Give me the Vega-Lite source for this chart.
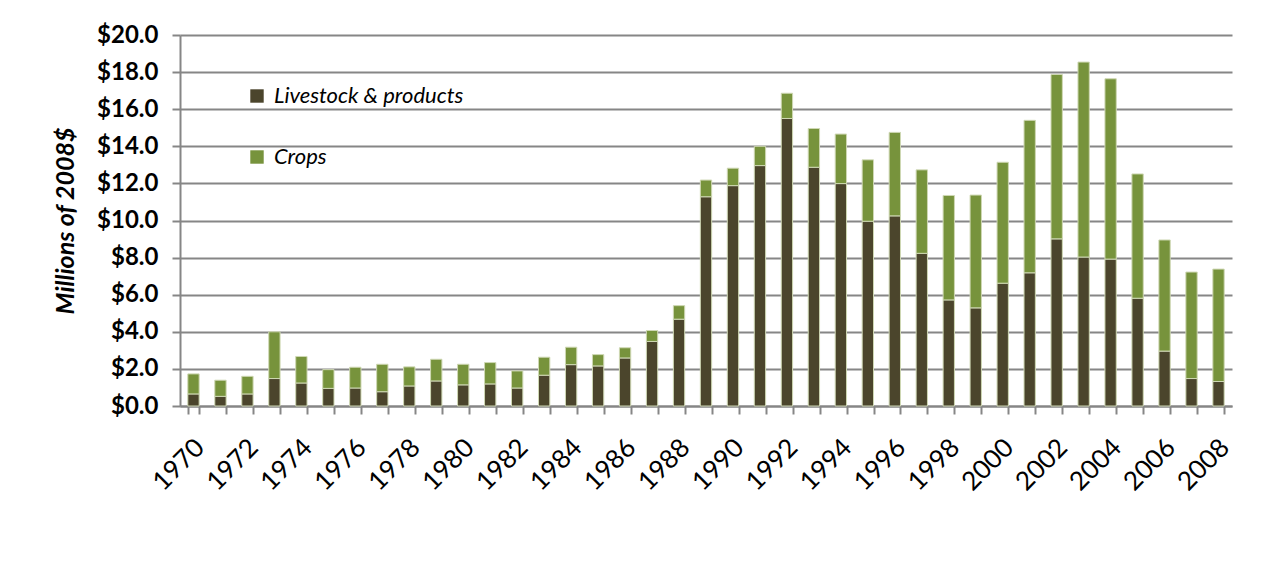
{
  "$schema": "https://vega.github.io/schema/vega-lite/v6.json",
  "autosize": "none",
  "width": 1052,
  "height": 371,
  "padding": {"left": 180, "top": 35, "right": 33, "bottom": 169},
  "background": "white",
  "data": {
    "values": [
      {"year": 1970, "livestock": 0.65, "crops": 1.08},
      {"year": 1971, "livestock": 0.52, "crops": 0.87},
      {"year": 1972, "livestock": 0.65, "crops": 0.95},
      {"year": 1973, "livestock": 1.48, "crops": 2.52},
      {"year": 1974, "livestock": 1.24, "crops": 1.43},
      {"year": 1975, "livestock": 0.95, "crops": 1.01},
      {"year": 1976, "livestock": 0.97, "crops": 1.12},
      {"year": 1977, "livestock": 0.77, "crops": 1.48},
      {"year": 1978, "livestock": 1.08, "crops": 1.03},
      {"year": 1979, "livestock": 1.35, "crops": 1.17},
      {"year": 1980, "livestock": 1.14, "crops": 1.11},
      {"year": 1981, "livestock": 1.19, "crops": 1.15},
      {"year": 1982, "livestock": 0.97, "crops": 0.92},
      {"year": 1983, "livestock": 1.66, "crops": 0.97},
      {"year": 1984, "livestock": 2.23, "crops": 0.94},
      {"year": 1985, "livestock": 2.16, "crops": 0.61},
      {"year": 1986, "livestock": 2.59, "crops": 0.55},
      {"year": 1987, "livestock": 3.48, "crops": 0.59},
      {"year": 1988, "livestock": 4.68, "crops": 0.73},
      {"year": 1989, "livestock": 11.28, "crops": 0.9},
      {"year": 1990, "livestock": 11.88, "crops": 0.94},
      {"year": 1991, "livestock": 12.96, "crops": 1.04},
      {"year": 1992, "livestock": 15.5, "crops": 1.36},
      {"year": 1993, "livestock": 12.87, "crops": 2.09},
      {"year": 1994, "livestock": 11.99, "crops": 2.67},
      {"year": 1995, "livestock": 9.96, "crops": 3.31},
      {"year": 1996, "livestock": 10.25, "crops": 4.5},
      {"year": 1997, "livestock": 8.23, "crops": 4.5},
      {"year": 1998, "livestock": 5.72, "crops": 5.63},
      {"year": 1999, "livestock": 5.29, "crops": 6.08},
      {"year": 2000, "livestock": 6.62, "crops": 6.52},
      {"year": 2001, "livestock": 7.18, "crops": 8.22},
      {"year": 2002, "livestock": 9.01, "crops": 8.86},
      {"year": 2003, "livestock": 8.03, "crops": 10.51},
      {"year": 2004, "livestock": 7.92, "crops": 9.72},
      {"year": 2005, "livestock": 5.81, "crops": 6.7},
      {"year": 2006, "livestock": 2.96, "crops": 5.99},
      {"year": 2007, "livestock": 1.48, "crops": 5.74},
      {"year": 2008, "livestock": 1.32, "crops": 6.06}
    ]
  },
  "transform": [{"fold": ["livestock", "crops"], "as": ["kind", "amount"]}],
  "mark": {"type": "bar", "stroke": "#cfd8b4", "strokeWidth": 1},
  "encoding": {
    "x": {
      "field": "year",
      "type": "ordinal",
      "scale": {"paddingInner": 0.58, "paddingOuter": 0.29},
      "axis": {
        "title": null,
        "labelAngle": -45,
        "labelExpr": "datum.value % 2 == 0 ? datum.label : ''",
        "labelFont": "Lato",
        "labelFontSize": 26,
        "labelColor": "#000000",
        "labelPadding": 20,
        "labelOffset": -3,
        "tickBand": "extent",
        "tickColor": "#868686",
        "tickWidth": 2,
        "tickSize": 8,
        "domainColor": "#868686",
        "domainWidth": 2,
        "grid": false
      }
    },
    "y": {
      "field": "amount",
      "type": "quantitative",
      "stack": "zero",
      "scale": {"domain": [0, 20], "nice": false},
      "axis": {
        "title": "Millions of 2008$",
        "titleFont": "Lato",
        "titleFontSize": 25,
        "titleFontWeight": "bold",
        "titleFontStyle": "italic",
        "titleColor": "#000000",
        "titlePadding": 18,
        "values": [0, 2, 4, 6, 8, 10, 12, 14, 16, 18, 20],
        "format": "$.1f",
        "labelFont": "Lato",
        "labelFontSize": 24,
        "labelFontWeight": "bold",
        "labelColor": "#000000",
        "labelPadding": 14,
        "tickColor": "#868686",
        "tickWidth": 2,
        "tickSize": 8,
        "domainColor": "#868686",
        "domainWidth": 2,
        "grid": true,
        "gridColor": "#868686",
        "gridWidth": 2
      }
    },
    "color": {
      "field": "kind",
      "type": "nominal",
      "scale": {"domain": ["livestock", "crops"], "range": ["#4b452c", "#77933c"]},
      "legend": {
        "title": null,
        "orient": "none",
        "legendX": 66,
        "legendY": 50,
        "direction": "vertical",
        "symbolType": "square",
        "symbolSize": 180,
        "symbolStrokeWidth": 0,
        "rowPadding": 39,
        "labelFont": "Lato",
        "labelFontSize": 22,
        "labelFontStyle": "italic",
        "labelLimit": 0,
        "labelColor": "#000000",
        "labelOffset": 6,
        "labelExpr": "datum.value == 'livestock' ? 'Livestock & products' : 'Crops'"
      }
    },
    "order": {"field": "kind", "sort": "descending"}
  },
  "config": {"view": {"stroke": null}}
}
